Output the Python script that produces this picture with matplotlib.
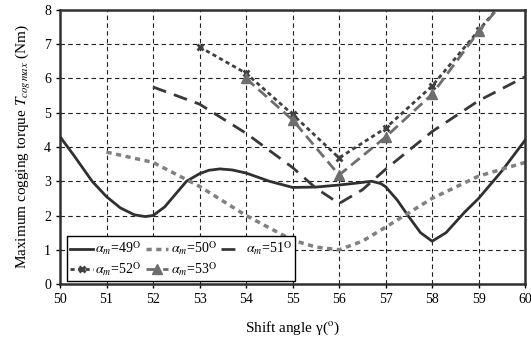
import matplotlib
matplotlib.use("Agg")
import matplotlib.pyplot as plt

plt.rcParams['font.family'] = ['Liberation Serif', 'DejaVu Serif']
plt.rcParams['mathtext.fontset'] = 'stix'

# alpha_m = 49 (smooth curve, read densely)
x49 = [50.0, 50.3, 50.69, 51.0, 51.3, 51.6, 51.83, 52.0, 52.25, 52.5, 52.72, 53.0, 53.2,
       53.44, 53.7, 54.0, 54.5, 55.0, 55.5, 56.0, 56.4, 56.7, 56.9, 57.0, 57.25, 57.48,
       57.75, 58.0, 58.3, 58.7, 59.0, 59.5, 60.0]
y49 = [4.3, 3.75, 3.0, 2.55, 2.22, 2.02, 1.97, 2.0, 2.25, 2.65, 3.0, 3.22, 3.32,
       3.36, 3.33, 3.24, 3.0, 2.82, 2.83, 2.89, 2.95, 3.0, 2.93, 2.84, 2.45, 2.0,
       1.5, 1.25, 1.5, 2.1, 2.5, 3.3, 4.2]

x50 = [51, 52, 53, 54, 55, 55.5, 56, 56.5, 57, 58, 59, 60]
y50 = [3.85, 3.55, 2.85, 2.0, 1.28, 1.08, 1.0, 1.25, 1.66, 2.5, 3.15, 3.55]

x51 = [52, 53, 54, 55, 55.5, 56, 56.5, 57, 58, 59, 60]
y51 = [5.75, 5.25, 4.4, 3.4, 2.8, 2.35, 2.75, 3.35, 4.45, 5.35, 6.05]

x52 = [53, 54, 55, 56, 57, 58, 59, 60]
y52 = [6.92, 6.15, 4.95, 3.68, 4.55, 5.78, 7.4, 9.0]

x53 = [54, 55, 56, 57, 58, 59, 60]
y53 = [6.0, 4.79, 3.18, 4.29, 5.54, 7.37, 9.0]

labels = [r'$\alpha_m$=49$^{\rm O}$', r'$\alpha_m$=50$^{\rm O}$', r'$\alpha_m$=51$^{\rm O}$',
          r'$\alpha_m$=52$^{\rm O}$', r'$\alpha_m$=53$^{\rm O}$']

fig = plt.figure(figsize=(5.31, 3.41), dpi=100)
ax = fig.add_axes([0.113, 0.167, 0.876, 0.804])

h1, = ax.plot(x49, y49, color='#303030', lw=2.0, ls='-')
h2, = ax.plot(x50, y50, color='#808080', lw=2.5, ls=(0, (1.5, 1.3)))
h3, = ax.plot(x51, y51, color='#383838', lw=2.0, ls=(0, (5, 3)))
h4, = ax.plot(x52, y52, color='#404040', lw=2.0, ls=(0, (1.5, 1.2)), marker='x',
              ms=5, mew=2)
h5, = ax.plot(x53, y53, color='#6e6e6e', lw=2.0, ls=(0, (4, 2)), marker='^',
              ms=7)

ax.set_xlim(50, 60)
ax.set_ylim(0, 8)
ax.set_xticks(range(50, 61))
ax.set_yticks(range(0, 9))
ax.grid(True, color='#202020', ls=(0, (4, 3)), lw=0.8)
ax.set_axisbelow(True)
for s in ax.spines.values():
    s.set_linewidth(1.8)
    s.set_color('#303030')
ax.tick_params(labelsize=10, length=3, width=1, direction='out')

ax.set_xlabel(r'Shift angle γ($^{\rm o}$)', fontsize=11, labelpad=10)
ax.set_ylabel(r'Maximum cogging torque $T_{cog\,max}$ (Nm)', fontsize=11, labelpad=8)

handles = [h1, h4, h2, h5, h3]
order_labels = [labels[0], labels[3], labels[1], labels[4], labels[2]]
leg = ax.legend(handles, order_labels, ncol=3, loc='lower left',
                bbox_to_anchor=(0.015, 0.01), fontsize=10, frameon=True,
                fancybox=False, edgecolor='black', handlelength=1.6,
                handletextpad=0.2, columnspacing=0.3, labelspacing=0.2,
                borderpad=0.25, borderaxespad=0.0)
leg.get_frame().set_linewidth(1.0)
leg.get_frame().set_alpha(1.0)

fig.savefig('out.png', dpi=100)
